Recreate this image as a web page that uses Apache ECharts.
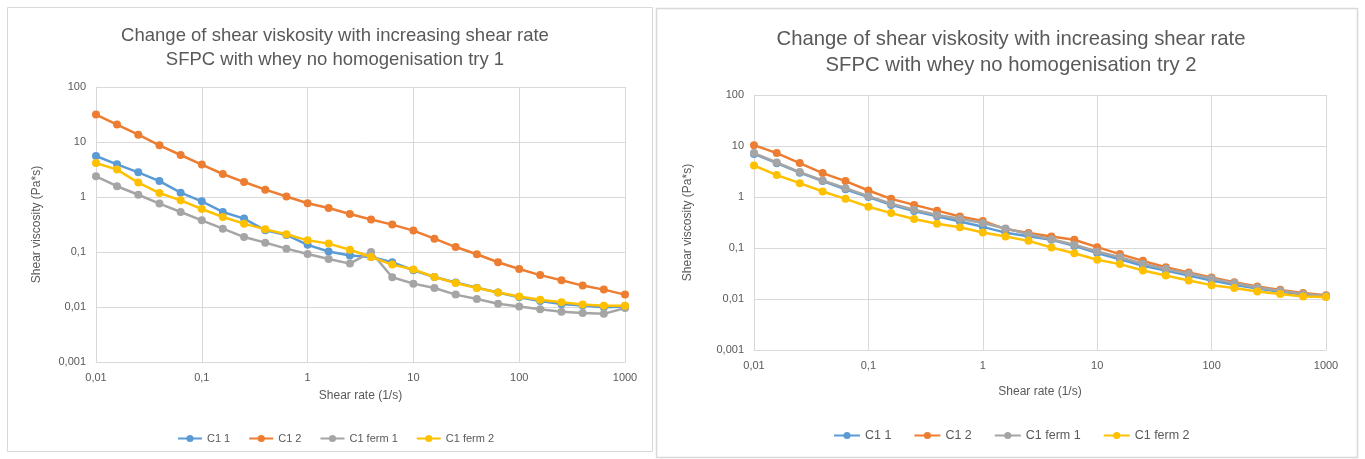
<!DOCTYPE html>
<html>
<head>
<meta charset="utf-8">
<script src="https://cdn.jsdelivr.net/npm/echarts@6/dist/echarts.min.js"></script>
<style>
  html, body { margin: 0; padding: 0; background: #fff; }
  #chart { width: 1365px; height: 459px; }
</style>
</head>
<body>
<div id="chart"></div>
<script>
// shear rate steps (1/s), same for both tries
const shearRate = [0.01, 0.0158, 0.0251, 0.0398, 0.0631, 0.1, 0.158, 0.251, 0.398, 0.631,
  1, 1.58, 2.51, 3.98, 6.31, 10, 15.8, 25.1, 39.8, 63.1, 100, 158, 251, 398, 631, 1000];

const seriesNames = ['C1 1', 'C1 2', 'C1 ferm 1', 'C1 ferm 2'];

// try 1
const try1C11 = [5.56, 3.93, 2.81, 1.95, 1.2, 0.835, 0.534, 0.405, 0.248, 0.204,
  0.135, 0.102, 0.086, 0.081, 0.065, 0.0465, 0.0351, 0.0278, 0.0225, 0.0183,
  0.015, 0.0129, 0.0113, 0.0106, 0.0099, 0.0102];
const try1C12 = [31.5, 20.7, 13.6, 8.7, 5.8, 3.88, 2.62, 1.87, 1.36, 1.02,
  0.77, 0.63, 0.49, 0.39, 0.315, 0.245, 0.175, 0.123, 0.091, 0.065,
  0.049, 0.038, 0.0306, 0.0245, 0.0207, 0.0168];
const try1Ferm1 = [2.38, 1.57, 1.1, 0.76, 0.534, 0.377, 0.266, 0.187, 0.148, 0.115,
  0.092, 0.0746, 0.0615, 0.1, 0.0347, 0.0266, 0.0221, 0.0168, 0.014, 0.0115,
  0.0102, 0.0091, 0.0082, 0.0078, 0.0075, 0.0096];
const try1Ferm2 = [4.15, 3.15, 1.83, 1.18, 0.87, 0.605, 0.433, 0.328, 0.258, 0.21,
  0.163, 0.142, 0.11, 0.081, 0.059, 0.048, 0.0351, 0.0273, 0.0221, 0.0183,
  0.0155, 0.0136, 0.0122, 0.0111, 0.0105, 0.0105];

// try 2
const try2C11 = [7.0, 4.6, 3.0, 2.05, 1.42, 1.0, 0.7, 0.53, 0.42, 0.33,
  0.26, 0.2, 0.17, 0.145, 0.11, 0.08, 0.06, 0.045, 0.036, 0.029,
  0.023, 0.019, 0.016, 0.0138, 0.0122, 0.0112];
const try2C12 = [10.4, 7.26, 4.62, 2.94, 2.05, 1.34, 0.92, 0.7, 0.54, 0.415,
  0.34, 0.235, 0.196, 0.168, 0.145, 0.104, 0.076, 0.056, 0.042, 0.033,
  0.0264, 0.0214, 0.0176, 0.0151, 0.0131, 0.0119];
const try2Ferm1 = [7.26, 4.75, 3.08, 2.11, 1.49, 1.04, 0.736, 0.561, 0.442, 0.374,
  0.31, 0.241, 0.187, 0.149, 0.116, 0.0855, 0.0663, 0.049, 0.039, 0.0312,
  0.0252, 0.0205, 0.0168, 0.0145, 0.0126, 0.0116];
const try2Ferm2 = [4.15, 2.69, 1.87, 1.28, 0.92, 0.643, 0.483, 0.369, 0.298, 0.255,
  0.201, 0.168, 0.138, 0.102, 0.079, 0.0587, 0.0483, 0.0362, 0.0289, 0.0231,
  0.0187, 0.0164, 0.014, 0.0125, 0.0112, 0.0109];

const colors = ['#5B9BD5', '#ED7D31', '#A5A5A5', '#FFC000'];
const textColor = '#595959';
const lineColor = '#d9d9d9';
const font = 'Liberation Sans';

function fmt(v) {
  return String(+v.toPrecision(6)).replace('.', ',');
}

function pairs(ys) {
  return shearRate.map((x, i) => [x, ys[i]]);
}

function makeAxes(idx, xNameGap, yNameGap, fs) {
  const common = {
    type: 'log',
    logBase: 10,
    gridIndex: idx,
    axisLine: {show: true, lineStyle: {color: lineColor}},
    axisTick: {show: false},
    splitLine: {show: true, lineStyle: {color: lineColor, width: 1}},
    axisLabel: {color: textColor, fontFamily: font, fontSize: fs, formatter: fmt, margin: 10},
    nameTextStyle: {color: textColor, fontFamily: font, fontSize: fs + 1},
    nameLocation: 'middle'
  };
  return {
    x: Object.assign({}, common, {min: 0.01, max: 1000, name: 'Shear rate (1/s)', nameGap: xNameGap}),
    y: Object.assign({}, common, {min: 0.001, max: 100, name: 'Shear viscosity (Pa*s)', nameGap: yNameGap})
  };
}

const a1 = makeAxes(0, 28, 53, 11);
const a2 = makeAxes(1, 36, 60, 11);

function makeSeries(idx, lists) {
  return lists.map((ys, i) => ({
    name: seriesNames[i],
    type: 'line',
    xAxisIndex: idx,
    yAxisIndex: idx,
    data: pairs(ys),
    symbol: 'circle',
    symbolSize: 8,
    lineStyle: {width: 2.5, color: colors[i]},
    itemStyle: {color: colors[i]},
    z: 2 + i
  }));
}

const chart = echarts.init(document.getElementById('chart'), null, {renderer: 'canvas'});

const option = {
  animation: false,
  backgroundColor: '#fff',
  color: colors,
  title: [
    {
      text: 'Change of shear viskosity with increasing shear rate\nSFPC with whey no homogenisation try 1',
      left: 330, top: 19, textAlign: 'center',
      textStyle: {color: textColor, fontFamily: font, fontSize: 18.5, fontWeight: 'normal', lineHeight: 24}
    },
    {
      text: 'Change of shear viskosity with increasing shear rate\nSFPC with whey no homogenisation try 2',
      left: 1006, top: 21, textAlign: 'center',
      textStyle: {color: textColor, fontFamily: font, fontSize: 20.3, fontWeight: 'normal', lineHeight: 26}
    }
  ],
  legend: [
    {
      data: seriesNames, left: 172, top: 428, itemWidth: 24, itemHeight: 9, itemGap: 18,
      textStyle: {color: textColor, fontFamily: font, fontSize: 11},
      selectedMode: false
    },
    {
      data: seriesNames, left: 828, top: 424, itemWidth: 26, itemHeight: 9, itemGap: 22,
      textStyle: {color: textColor, fontFamily: font, fontSize: 12.5},
      selectedMode: false
    }
  ],
  grid: [
    {left: 96, top: 87, width: 529, height: 275},
    {left: 754, top: 95, width: 572, height: 255}
  ],
  xAxis: [a1.x, a2.x],
  yAxis: [a1.y, a2.y],
  series: makeSeries(0, [try1C11, try1C12, try1Ferm1, try1Ferm2])
    .concat(makeSeries(1, [try2C11, try2C12, try2Ferm1, try2Ferm2])),
  graphic: [
    {type: 'rect', shape: {x: 7.5, y: 7.5, width: 645, height: 444}, style: {fill: 'none', stroke: lineColor, lineWidth: 1}},
    {type: 'rect', shape: {x: 656.5, y: 8.5, width: 701, height: 449}, style: {fill: 'none', stroke: lineColor, lineWidth: 1.5}}
  ]
};

chart.setOption(option);
</script>
</body>
</html>
